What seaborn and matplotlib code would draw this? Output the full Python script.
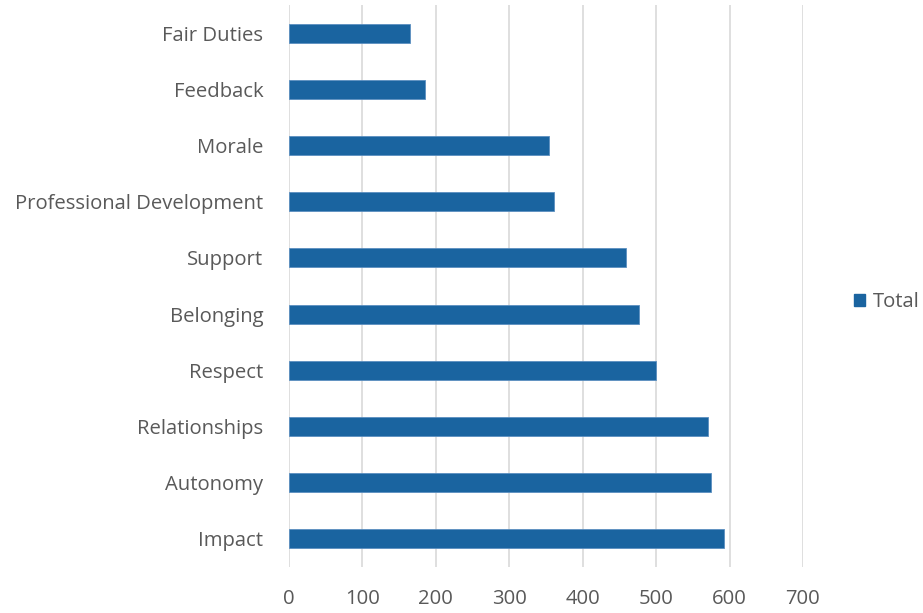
import matplotlib
matplotlib.use("Agg")
import matplotlib.pyplot as plt
import seaborn as sns
import pandas as pd
from matplotlib.patches import Patch

categories = ["Fair Duties", "Feedback", "Morale", "Professional Development", "Support",
              "Belonging", "Respect", "Relationships", "Autonomy", "Impact"]
totals = [165, 185, 354, 361, 459, 476, 500, 571, 575, 592]
xticks = [0, 100, 200, 300, 400, 500, 600, 700]

df = pd.DataFrame({"Category": categories, "Total": totals})

sns.set_theme(style="white")
plt.rcParams['font.family'] = ['Open Sans', 'DejaVu Sans']
text_color = "#595959"
bar_color = "#1a64a0"

fig = plt.figure(figsize=(9.23, 6.13), dpi=100)
ax = fig.add_axes([289/923, 1 - 567/613, (803 - 289)/923, (567 - 5)/613])

sns.barplot(data=df, y="Category", x="Total", orient="h", color=bar_color,
            width=0.34, saturation=1, ax=ax, edgecolor="#5b8fc0", linewidth=0.6, zorder=3)

ax.set_xlim(0, 700)
ax.set_xticks(xticks)
ax.set_xticklabels([str(t) for t in xticks])
ax.xaxis.grid(True, color="#d9d9d9", linewidth=1.2, zorder=0)
ax.yaxis.grid(False)
for s in ax.spines.values():
    s.set_visible(False)
ax.set_xlabel("")
ax.set_ylabel("")
ax.tick_params(axis="both", length=0, colors=text_color, labelsize=14.6)
ax.tick_params(axis="y", pad=18.5)
ax.tick_params(axis="x", pad=16)

handles = [Patch(facecolor=bar_color, edgecolor=bar_color)]
fig.legend(handles, ["Total"], loc="center left", bbox_to_anchor=(854/923, 1 - 302/613),
           frameon=False, fontsize=14.6, labelcolor=text_color, handlelength=0.55,
           handleheight=0.55, handletextpad=0.4, borderaxespad=0, borderpad=0)

fig.savefig("out.png", dpi=100)
